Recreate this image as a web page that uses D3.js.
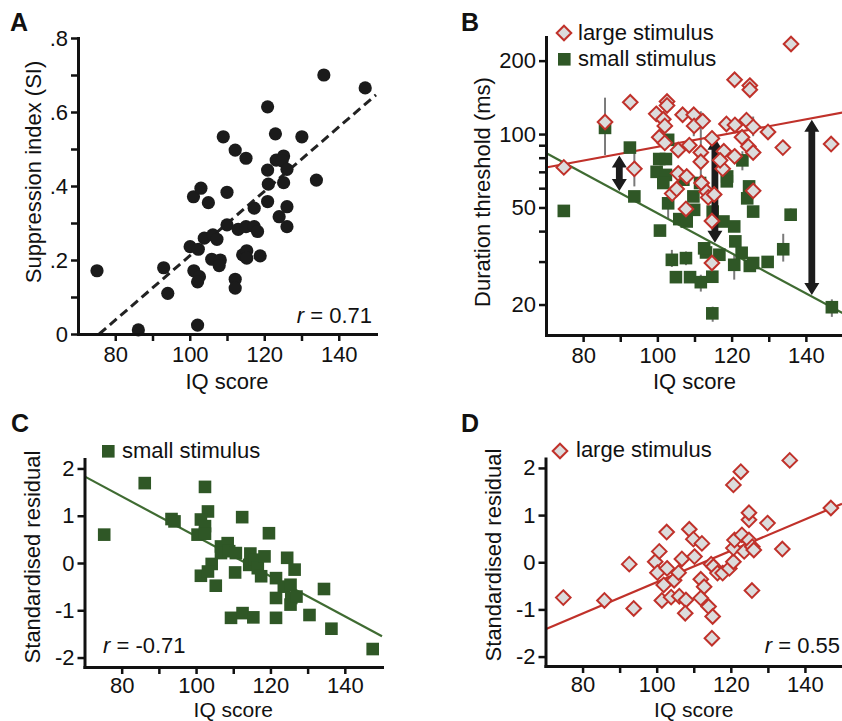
<!DOCTYPE html>
<html>
<head>
<meta charset="utf-8">
<script src="https://cdn.jsdelivr.net/npm/d3@7"></script>
<style>
  body { margin: 0; background: #fff; }
  svg text { font-family: "Liberation Sans", Arial, Helvetica, sans-serif; fill: #111; }
  .axis .domain { stroke: #111; stroke-width: 3; stroke-linecap: square; }
  .axis .tick line { stroke: #111; stroke-width: 2.5; }
  .axis .tick text { font-size: 22px; }
</style>
</head>
<body>
<div class="canvas"></div>
<script>
// ---- panel A: suppression index vs IQ
const iqA = [75.1, 86.2, 93.0, 94.1, 100.1, 101.0, 103.0, 102.3, 101.1, 102.6, 102.1, 102.1,
  105.0, 103.9, 106.2, 107.3, 105.9, 108.2, 107.9, 109.0, 110.0, 110.0, 112.2, 115.1, 112.2,
  112.2, 113.0, 115.1, 117.3, 118.2, 117.3, 114.2, 115.3, 115.3, 118.9, 120.9, 120.9, 121.1,
  120.9, 123.0, 123.2, 125.2, 124.8, 126.1, 125.2, 126.1, 126.1, 124.0, 130.1, 134.0, 136.0, 147.1];
const siA = [0.171, 0.011, 0.179, 0.110, 0.236, 0.371, 0.394, 0.229, 0.171, 0.155, 0.141, 0.024,
  0.355, 0.259, 0.268, 0.256, 0.202, 0.200, 0.185, 0.533, 0.383, 0.295, 0.497, 0.475, 0.148,
  0.124, 0.283, 0.290, 0.290, 0.277, 0.340, 0.214, 0.225, 0.205, 0.211, 0.614, 0.443, 0.405,
  0.358, 0.541, 0.470, 0.481, 0.468, 0.445, 0.409, 0.344, 0.290, 0.317, 0.533, 0.416, 0.700, 0.665];
const fitA = { slope: 0.0087, intercept: -0.6586 };
const rA = "0.71";

// ---- panel B: duration thresholds (ms), log axis
const iqLarge = [74.8, 85.9, 92.7, 93.8, 99.7, 102.6, 102.6, 101.6, 102.0, 100.5, 102.0, 105.6,
  106.8, 108.6, 109.8, 109.9, 112.2, 111.7, 111.7, 114.7, 117.9, 118.6, 120.9, 120.8, 124.9,
  124.9, 124.0, 122.8, 124.5, 125.8, 125.8, 129.8, 133.8, 136.0, 146.8, 120.8, 117.6, 116.9,
  105.6, 107.9, 111.9, 104.0, 105.2, 113.3, 125.8, 107.7, 113.7, 115.3, 114.7, 114.7];
const durLarge = [73, 112, 135, 72, 121, 136, 131, 115, 108, 97, 92, 86,
  120, 90, 120, 108, 113, 84, 77, 96, 85, 110, 109, 167, 158,
  152, 114, 97, 89, 84, 107, 102, 88, 234, 91, 81, 72, 78,
  69, 67, 63, 57, 59.5, 58, 58.5, 49.3, 55, 56.5, 44, 29.6];
const iqSmall = [74.8, 85.9, 92.6, 93.8, 100.5, 102.3, 99.8, 102.3, 101.6, 102.9, 102.9, 100.7,
  103.9, 105.0, 105.9, 107.9, 107.0, 107.7, 108.8, 109.7, 109.9, 111.5, 111.7, 113.1, 114.8,
  114.8, 114.9, 116.7, 117.8, 118.8, 120.7, 121.0, 122.7, 120.7, 122.9, 124.7, 124.2, 125.8,
  124.9, 125.8, 129.7, 133.9, 135.9, 147.0, 112.6, 118.7];
const durSmall = [48.4, 106, 88, 55.5, 79, 79, 70, 68, 63, 94.7, 52, 40.2,
  30.5, 25.9, 44.8, 43.8, 65, 31, 25.9, 55.5, 48.9, 63, 24.7, 32.7, 26,
  18.4, 48.1, 32, 43.8, 67, 41.8, 36.3, 32.6, 29.1, 78, 61, 54.5, 48.1,
  28.8, 29.6, 29.9, 33.7, 46.7, 19.5, 34, 64];
// visible error bars: [IQ, low, high]
const errB = [[85.9, 82, 141], [93.8, 61, 88], [111.7, 61, 124], [109.8, 98, 124],
  [125.8, 98, 118], [102.9, 45, 57], [133.9, 30, 39], [120.7, 25.3, 32], [147.0, 17.8, 21],
  [135.9, 44, 49.5], [111.7, 22.6, 26.5], [114.9, 17, 19.6], [107.7, 29, 33],
  [103.9, 28.5, 33.5], [122.9, 71, 85], [118.7, 61, 68]];
// log10(ms) = a + b * (IQ - 70)
const fitLarge = { a: 1.8627, b: 0.002822 };
const fitSmall = { a: 1.9222, b: -0.008218 };
const arrowIQ = [89.75, 115.5, 141.6];

// ---- panel C: small stimulus residuals
const iqC = [75.3, 86.2, 93.4, 94.2, 102.4, 103.2, 101.3, 102.4, 100.4, 102.4, 101.3, 104.2,
  103.2, 105.3, 106.7, 108.5, 106.7, 108.9, 110.7, 110.5, 112.4, 109.4, 112.5, 115.4, 114.6,
  114.3, 115.7, 116.6, 118.4, 117.5, 119.6, 121.5, 121.5, 121.5, 123.6, 124.5, 125.4, 126.5,
  125.6, 125.4, 127.0, 130.5, 134.4, 136.4, 147.5];
const resC = [0.60, 1.69, 0.93, 0.88, 1.61, 1.09, 0.92, 0.78, 0.60, 0.62, -0.27, -0.02,
  -0.18, -0.48, 0.35, 0.42, 0.21, 0.25, 0.21, -0.20, 0.97, -1.16, -1.06, -1.15, 0.20,
  -0.04, 0.07, -0.11, 0.14, -0.28, 0.63, -0.32, -0.74, -1.16, -0.50, 0.11, -0.46, -0.14,
  -0.74, -0.88, -0.71, -1.10, -0.55, -1.39, -1.82];
const fitC = { slope: -0.04229, intercept: 4.793 };
const rC = "-0.71";

// ---- panel D: large stimulus residuals
const iqD = [74.8, 85.9, 92.6, 93.8, 99.6, 100.7, 102.7, 100.2, 102.8, 101.9, 101.4, 103.9,
  104.7, 105.9, 106.8, 106.1, 107.9, 107.7, 108.8, 109.9, 110.2, 112.2, 111.9, 112.8, 111.9,
  114.0, 115.1, 114.9, 114.7, 115.3, 116.4, 117.8, 119.6, 120.7, 120.7, 121.0, 120.7, 122.7,
  123.0, 123.6, 124.9, 124.9, 124.9, 125.8, 126.2, 125.7, 129.9, 133.9, 135.9, 147.0];
const resD = [-0.75, -0.81, -0.04, -0.98, 0.01, 0.23, 0.64, -0.22, -0.13, -0.48, -0.81, -0.74,
  -0.38, -0.22, 0.07, -0.72, -0.80, -1.08, 0.70, 0.49, 0.12, 0.40, -0.36, -0.52, -0.76,
  -0.94, -1.15, -1.61, -0.04, -0.09, -0.23, -0.23, -0.13, 0.01, 0.30, 0.47, 1.64, 1.92,
  0.58, 0.23, 0.90, 1.05, 0.47, 0.33, 0.26, -0.60, 0.83, 0.28, 2.16, 1.15];
const fitD = { slope: 0.03325, intercept: -3.7475 };
const rD = "0.55";

// ---- ticks
const iqTicks = [80, 90, 100, 110, 120, 130, 140];
const iqLabels = [80, 100, 120, 140];
const siTicks = [0, 0.1, 0.2, 0.3, 0.4, 0.5, 0.6, 0.7, 0.8];
const siLabels = [0, 0.2, 0.4, 0.6, 0.8];
const durTicks = [20, 30, 40, 50, 60, 70, 80, 90, 100, 200];
const durLabels = [20, 50, 100, 200];
const resTicks = [-2, -1, 0, 1, 2];

const red = "#c0312a", green = "#2f5726", greenLine = "#3f6b32", diamondFill = "#dcdcdc";

const svg = d3.select(".canvas").append("svg")
  .attr("width", 842).attr("height", 721);

function diamond(h) { return `M0,${-h}L${h},0L0,${h}L${-h},0Z`; }

function axes(g, x, y, yTicks, yFmt, xLabelY, xPad, xLabelSize) {
  g.append("g").attr("class", "axis")
    .attr("transform", `translate(0,${y.range()[0]})`)
    .call(d3.axisBottom(x).tickValues(iqTicks).tickSize(7).tickSizeOuter(0).tickPadding(xPad)
      .tickFormat((d) => (iqLabels.includes(d) ? d : "")));
  g.append("g").attr("class", "axis")
    .attr("transform", `translate(${x.range()[0]},0)`)
    .call(d3.axisLeft(y).tickValues(yTicks).tickSize(7).tickSizeOuter(0).tickPadding(3)
      .tickFormat(yFmt));
  g.append("text")
    .attr("x", (x.range()[0] + x.range()[1]) / 2)
    .attr("y", xLabelY)
    .attr("text-anchor", "middle")
    .style("font-size", xLabelSize + "px")
    .text("IQ score");
}

function yTitle(g, txt, x, yc) {
  g.append("text")
    .attr("transform", `translate(${x},${yc}) rotate(-90)`)
    .attr("text-anchor", "middle")
    .style("font-size", "22px")
    .text(txt);
}

function panelLetter(g, txt, x, y) {
  g.append("text").attr("x", x).attr("y", y)
    .style("font-size", "25px").style("font-weight", "bold").text(txt);
}

function rText(g, val, x, y, anchor) {
  const t = g.append("text").attr("x", x).attr("y", y)
    .attr("text-anchor", anchor).style("font-size", "22px");
  t.append("tspan").style("font-style", "italic").text("r");
  t.append("tspan").text(" = " + val);
}

/* ---------------- Panel A ---------------- */
(function () {
  const x = d3.scaleLinear().domain([70, 150]).range([78, 376]);
  const y = d3.scaleLinear().domain([0, 0.8]).range([334, 38]);
  const g = svg.append("g");
  const dataA = iqA.map((d, i) => ({ iq: d, si: siA[i] }));

  const x0 = (0 - fitA.intercept) / fitA.slope;
  g.append("line")
    .attr("x1", x(x0)).attr("y1", y(0))
    .attr("x2", x(150)).attr("y2", y(fitA.intercept + fitA.slope * 150))
    .attr("stroke", "#222").attr("stroke-width", 3)
    .attr("stroke-dasharray", "9,5");

  g.selectAll("circle").data(dataA).enter().append("circle")
    .attr("cx", (d) => x(d.iq)).attr("cy", (d) => y(d.si))
    .attr("r", 6.6).attr("fill", "#1b1b1b");

  axes(g, x, y, siTicks, (d) => {
    if (!siLabels.some((v) => Math.abs(v - d) < 1e-6)) return "";
    return d === 0 ? "0" : d3.format(".1f")(d).replace(/^0/, "");
  }, 389, 5, 22);
  yTitle(g, "Suppression index (SI)", 41, 172);
  panelLetter(g, "A", 10, 31);
  rText(g, rA, 372, 323, "end");
})();

/* ---------------- Panel B ---------------- */
(function () {
  const x = d3.scaleLinear().domain([70, 150]).range([546, 843]);
  const y = d3.scaleLog().domain([15, 250]).range([335, 37]);
  const g = svg.append("g");
  const large = iqLarge.map((d, i) => ({ iq: d, v: durLarge[i] }));
  const small = iqSmall.map((d, i) => ({ iq: d, v: durSmall[i] }));
  const fitVal = (f, iq) => Math.pow(10, f.a + f.b * (iq - 70));

  // error bars
  g.selectAll(".err").data(errB).enter().append("line")
    .attr("x1", (d) => x(d[0])).attr("x2", (d) => x(d[0]))
    .attr("y1", (d) => y(d[1])).attr("y2", (d) => y(d[2]))
    .attr("stroke", "#7a7a7a").attr("stroke-width", 2);

  // fits
  [[fitLarge, red], [fitSmall, greenLine]].forEach(([f, c]) => {
    g.append("path")
      .attr("d", d3.line()([[x(70), y(fitVal(f, 70))], [x(150), y(fitVal(f, 150))]]))
      .attr("stroke", c).attr("stroke-width", 2.2).attr("fill", "none");
  });

  g.selectAll(".sq").data(small).enter().append("rect")
    .attr("x", (d) => x(d.iq) - 6.3).attr("y", (d) => y(d.v) - 6.3)
    .attr("width", 12.6).attr("height", 12.6).attr("fill", green);

  // double-headed arrows between the two fits
  arrowIQ.forEach((iq) => {
    const ax = x(iq);
    const top = y(fitVal(fitLarge, iq)) + 1.5;
    const bot = y(fitVal(fitSmall, iq)) - 1.5;
    const hw = 7.5, hl = 12, sw = 3.4;
    g.append("path")
      .attr("d", `M${ax},${top}L${ax + hw},${top + hl}L${ax + sw},${top + hl}L${ax + sw},${bot - hl}` +
        `L${ax + hw},${bot - hl}L${ax},${bot}L${ax - hw},${bot - hl}L${ax - sw},${bot - hl}` +
        `L${ax - sw},${top + hl}L${ax - hw},${top + hl}Z`)
      .attr("fill", "#1c1c1c");
  });

  g.selectAll(".dm").data(large).enter().append("path")
    .attr("transform", (d) => `translate(${x(d.iq)},${y(d.v)})`)
    .attr("d", diamond(7.3))
    .attr("fill", diamondFill).attr("stroke", red).attr("stroke-width", 2);

  axes(g, x, y, durTicks, (d) => (durLabels.includes(d) ? d : ""), 389, 5, 22);
  yTitle(g, "Duration threshold (ms)", 490, 192);
  panelLetter(g, "B", 461, 31);

  // legend
  g.append("path").attr("transform", "translate(564,33)").attr("d", diamond(7.3))
    .attr("fill", diamondFill).attr("stroke", red).attr("stroke-width", 2);
  g.append("text").attr("x", 578).attr("y", 40).style("font-size", "22px").text("large stimulus");
  g.append("rect").attr("x", 558).attr("y", 53).attr("width", 12.6).attr("height", 12.6)
    .attr("fill", green);
  g.append("text").attr("x", 578).attr("y", 66).style("font-size", "22px").text("small stimulus");
})();

/* ---------------- Panel C ---------------- */
(function () {
  const x = d3.scaleLinear().domain([70, 150]).range([84.5, 382]);
  const y = d3.scaleLinear().domain([-2.2, 2.2]).range([667, 459]);
  const g = svg.append("g");
  const dataC = iqC.map((d, i) => ({ iq: d, r: resC[i] }));

  g.append("line")
    .attr("x1", x(70)).attr("y1", y(fitC.intercept + fitC.slope * 70))
    .attr("x2", x(150)).attr("y2", y(fitC.intercept + fitC.slope * 150))
    .attr("stroke", greenLine).attr("stroke-width", 2.2);

  g.selectAll("rect").data(dataC).enter().append("rect")
    .attr("x", (d) => x(d.iq) - 6.3).attr("y", (d) => y(d.r) - 6.3)
    .attr("width", 12.6).attr("height", 12.6).attr("fill", green);

  axes(g, x, y, resTicks, (d) => d, 716.5, 3, 21);
  yTitle(g, "Standardised residual", 40, 557);
  panelLetter(g, "C", 11, 432);
  rText(g, rC, 103, 653, "start");

  g.append("rect").attr("x", 102).attr("y", 445).attr("width", 12.6).attr("height", 12.6)
    .attr("fill", green);
  g.append("text").attr("x", 122).attr("y", 458).style("font-size", "22px").text("small stimulus");
})();

/* ---------------- Panel D ---------------- */
(function () {
  const x = d3.scaleLinear().domain([70, 150]).range([545.5, 842]);
  const y = d3.scaleLinear().domain([-2.2, 2.2]).range([666, 458.5]);
  const g = svg.append("g");
  const dataD = iqD.map((d, i) => ({ iq: d, r: resD[i] }));

  g.append("line")
    .attr("x1", x(70)).attr("y1", y(fitD.intercept + fitD.slope * 70))
    .attr("x2", x(150)).attr("y2", y(fitD.intercept + fitD.slope * 150))
    .attr("stroke", red).attr("stroke-width", 2.2);

  g.selectAll(".dm").data(dataD).enter().append("path")
    .attr("transform", (d) => `translate(${x(d.iq)},${y(d.r)})`)
    .attr("d", diamond(7.3))
    .attr("fill", diamondFill).attr("stroke", red).attr("stroke-width", 2);

  axes(g, x, y, resTicks, (d) => d, 716.5, 3, 21);
  yTitle(g, "Standardised residual", 501, 555);
  panelLetter(g, "D", 461, 432);
  rText(g, rD, 840, 653, "end");

  g.append("path").attr("transform", "translate(560,451)").attr("d", diamond(7.3))
    .attr("fill", diamondFill).attr("stroke", red).attr("stroke-width", 2);
  g.append("text").attr("x", 576).attr("y", 457).style("font-size", "22px").text("large stimulus");
})();
</script>
</body>
</html>
